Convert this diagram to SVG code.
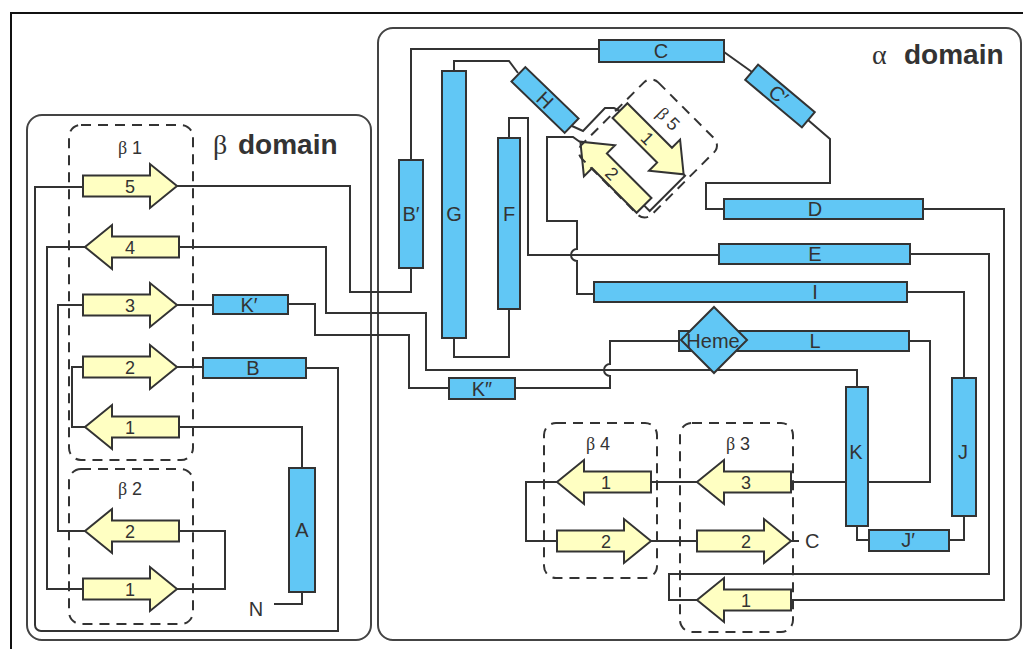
<svg xmlns="http://www.w3.org/2000/svg" width="1023" height="649" viewBox="0 0 1023 649">
  <style>
    .frame{fill:none;stroke:#111;stroke-width:2}
    .dom{fill:none;stroke:#444;stroke-width:2}
    .sheet{fill:none;stroke:#333;stroke-width:2;stroke-dasharray:10 7}
    .conn path{fill:none;stroke:#333;stroke-width:2}
    .helix{fill:#61C7F5;stroke:#333;stroke-width:2}
    .strand{fill:#FFFFC2;stroke:#333;stroke-width:2}
    text{font-family:"Liberation Sans",Arial,sans-serif;fill:#333}
    .lbl{font-size:20px;text-anchor:middle}
    .num{font-size:18px;text-anchor:middle}
    .title{font-size:28px}
    .gk{font-family:"Liberation Serif","Times New Roman",serif}
  </style>
  <defs>
    <!-- strand arrows: right-pointing starts at x=0, left-pointing has its tip at x=0 -->
    <path id="ar" d="M0,-10.5 H67 V-22 L94,0 L67,22 V10.5 H0 Z"/>
    <path id="al" d="M94,-10.5 H27 V-22 L0,0 L27,22 V10.5 H94 Z"/>
  </defs>

  <rect width="1023" height="649" fill="#fff"/>
  <path class="frame" d="M11,649 V13 H1023"/>

  <!-- domain outlines -->
  <g id="beta-domain">
    <rect class="dom" x="27" y="115" width="344" height="525" rx="15"/>
    <text class="title" y="154"><tspan class="gk" x="213">β</tspan><tspan x="238" font-weight="bold">domain</tspan></text>
  </g>
  <g id="alpha-domain">
    <rect class="dom" x="378" y="28" width="643" height="612" rx="15"/>
    <text class="title" y="64"><tspan class="gk" x="872">α</tspan><tspan x="904" font-weight="bold">domain</tspan></text>
  </g>

  <!-- connectors -->
  <g id="connectors" class="conn">
    <path d="M274,604 H302 V592"/>
    <path d="M302,468 V427 H179"/>
    <path d="M85,427 H72 V367 H83"/>
    <path d="M177,367 H203"/>
    <path d="M306,368 H338 V631 H41 A6,6 0 0 1 35,625 V187 H83"/>
    <path d="M177,186 H350 V292 H411 V268"/>
    <path d="M411,160 V49 H599"/>
    <path d="M724,52 L752,72"/>
    <path d="M808,120 L830,139 V183 H706 V209 H724"/>
    <path d="M923,209 H1004 V600 H791"/>
    <path d="M697,600 H669 V574 H989 V254 H910"/>
    <path d="M719,255 H528 V118 H509 V138"/>
    <path d="M509,309 V357 H454 V338"/>
    <path d="M454,71 V61 H509 L518,73"/>
    <path d="M572,126 L583,131 L605,108 H614 L620,111"/>
    <path transform="translate(632,158) rotate(45)" d="M48,-25 H50 V25 H42"/>
    <path d="M580,142 L573,137 H547 V221 H577 V249 A6,6 0 0 0 577,261 V294 H594"/>
    <path d="M907,292 H964 V378"/>
    <path d="M964,516 V540 H949"/>
    <path d="M869,540 H857 V526"/>
    <path d="M857,387 V370 H426 V313 H326 V247 H179"/>
    <path d="M85,247 H47 V589 H83"/>
    <path d="M177,589 H225 V531 H179"/>
    <path d="M85,531 H58 V305 H83"/>
    <path d="M177,305 H213"/>
    <path d="M288,304 H315 V335 H409 V388 H449"/>
    <path d="M515,388 H610 V376 A6,6 0 0 1 610,364 V341 H679"/>
    <path d="M909,341 H930 V482 H791"/>
    <path d="M697,482 H651"/>
    <path d="M557,482 H526 V541 H557"/>
    <path d="M651,541 H697"/>
    <path d="M791,541 H799"/>
  </g>

  <!-- helices -->
  <g id="helix-A"><rect class="helix" x="289" y="468" width="26" height="124"/><text class="lbl" x="302" y="537">A</text></g>
  <g id="helix-B"><rect class="helix" x="203" y="358" width="103" height="20"/><text class="lbl" x="253" y="375">B</text></g>
  <g id="helix-K1"><rect class="helix" x="213" y="295" width="75" height="19"/><text class="lbl" x="249" y="312">K′</text></g>
  <g id="helix-K2"><rect class="helix" x="449" y="378" width="66" height="21"/><text class="lbl" x="482" y="396">K″</text></g>
  <g id="helix-B1"><rect class="helix" x="399" y="160" width="24" height="108"/><text class="lbl" x="411" y="221">B′</text></g>
  <g id="helix-G"><rect class="helix" x="442" y="71" width="24" height="267"/><text class="lbl" x="454" y="221">G</text></g>
  <g id="helix-F"><rect class="helix" x="498" y="138" width="22" height="171"/><text class="lbl" x="509" y="221">F</text></g>
  <g id="helix-H" transform="translate(545,100) rotate(44)"><rect class="helix" x="-37" y="-10" width="74" height="20"/><text class="lbl" x="0" y="7">H</text></g>
  <g id="helix-C"><rect class="helix" x="599" y="40" width="125" height="22"/><text class="lbl" x="661" y="58">C</text></g>
  <g id="helix-C1" transform="translate(780,96) rotate(40)"><rect class="helix" x="-37" y="-10" width="74" height="20"/><text class="lbl" x="-2" y="7">C′</text></g>
  <g id="helix-D"><rect class="helix" x="724" y="199" width="199" height="20"/><text class="lbl" x="815" y="216">D</text></g>
  <g id="helix-E"><rect class="helix" x="719" y="244" width="191" height="20"/><text class="lbl" x="815" y="261">E</text></g>
  <g id="helix-I"><rect class="helix" x="594" y="282" width="313" height="20"/><text class="lbl" x="815" y="299">I</text></g>
  <g id="helix-L"><rect class="helix" x="679" y="331" width="230" height="20"/><text class="lbl" x="815" y="348">L</text></g>
  <g id="heme"><path class="helix" d="M714,307 L747,340 L714,373 L681,340 Z"/><text class="lbl" x="713" y="348">Heme</text></g>
  <g id="helix-K"><rect class="helix" x="846" y="387" width="22" height="139"/><text class="lbl" x="856" y="459">K</text></g>
  <g id="helix-J"><rect class="helix" x="952" y="378" width="24" height="138"/><text class="lbl" x="963" y="459">J</text></g>
  <g id="helix-J1"><rect class="helix" x="869" y="530" width="80" height="21"/><text class="lbl" x="908" y="547">J′</text></g>

  <!-- termini -->
  <g id="n-term"><text class="lbl" x="256" y="616">N</text></g>
  <g id="c-term"><text class="lbl" x="805" y="548" text-anchor="start" style="text-anchor:start">C</text></g>

  <!-- strands -->
  <g id="b1-5"><use href="#ar" class="strand" x="83" y="186"/><text class="num" x="130" y="193">5</text></g>
  <g id="b1-4"><use href="#al" class="strand" x="85" y="247"/><text class="num" x="130" y="254">4</text></g>
  <g id="b1-3"><use href="#ar" class="strand" x="83" y="305"/><text class="num" x="130" y="312">3</text></g>
  <g id="b1-2"><use href="#ar" class="strand" x="83" y="367"/><text class="num" x="130" y="374">2</text></g>
  <g id="b1-1"><use href="#al" class="strand" x="85" y="427"/><text class="num" x="130" y="434">1</text></g>
  <g id="b2-2"><use href="#al" class="strand" x="85" y="531"/><text class="num" x="130" y="538">2</text></g>
  <g id="b2-1"><use href="#ar" class="strand" x="83" y="589"/><text class="num" x="130" y="596">1</text></g>
  <g id="b4-1"><use href="#al" class="strand" x="557" y="482"/><text class="num" x="606" y="489">1</text></g>
  <g id="b4-2"><use href="#ar" class="strand" x="557" y="541"/><text class="num" x="606" y="548">2</text></g>
  <g id="b3-3"><use href="#al" class="strand" x="697" y="482"/><text class="num" x="746" y="489">3</text></g>
  <g id="b3-2"><use href="#ar" class="strand" x="697" y="541"/><text class="num" x="746" y="548">2</text></g>
  <g id="b3-1"><use href="#al" class="strand" x="697" y="600"/><text class="num" x="746" y="607">1</text></g>

  <!-- sheets -->
  <g id="sheet-b1"><rect class="sheet" x="69" y="125" width="124" height="335" rx="12"/><text class="num" x="130" y="154"><tspan class="gk">β</tspan> 1</text></g>
  <g id="sheet-b2"><rect class="sheet" x="69" y="469" width="124" height="155" rx="12"/><text class="num" x="130" y="495"><tspan class="gk">β</tspan> 2</text></g>
  <g id="sheet-b4"><rect class="sheet" x="544" y="423" width="113" height="155" rx="12"/><text class="num" x="598" y="450"><tspan class="gk">β</tspan> 4</text></g>
  <g id="sheet-b3"><rect class="sheet" x="680" y="423" width="113" height="209" rx="12"/><text class="num" x="738" y="450"><tspan class="gk">β</tspan> 3</text></g>
  <g id="sheet-b5" transform="translate(632,158) rotate(45)">
    <path class="strand" d="M-42,-35.5 H21 V-47 L48,-25 L21,-3 V-14.5 H-42 Z"/>
    <text class="num" x="-3" y="-18.5">1</text>
    <path class="strand" d="M42,14.5 H-21 V3 L-48,25 L-21,47 V35.5 H42 Z"/>
    <text class="num" x="-3" y="31.5">2</text>
    <rect class="sheet" x="-45" y="-72" width="99" height="108" rx="10"/>
    <text class="num" x="-2" y="-47"><tspan class="gk">β</tspan> 5</text>
  </g>
</svg>
